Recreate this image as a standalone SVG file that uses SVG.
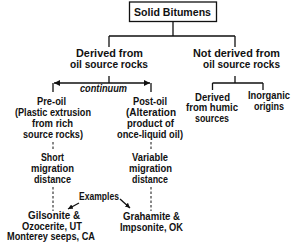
<svg xmlns="http://www.w3.org/2000/svg" width="300" height="251" viewBox="0 0 300 251">
<style>
text{font-family:"Liberation Sans",Arial,sans-serif;font-weight:bold;font-size:11px;fill:#111;text-anchor:middle}
.it{font-style:italic;font-size:10px}
.ln{stroke:#111;stroke-width:1.3;fill:none}
.dash{stroke:#111;stroke-width:1;fill:none;stroke-dasharray:2.5,2}
</style>
<defs>
<marker id="ah" viewBox="0 0 10 10" refX="10" refY="5" markerWidth="7" markerHeight="6" markerUnits="userSpaceOnUse" orient="auto-start-reverse">
<path d="M0,0 L10,5 L0,10 z" fill="#111"/>
</marker>
<marker id="ah2" viewBox="0 0 10 10" refX="10" refY="5" markerWidth="5" markerHeight="5" markerUnits="userSpaceOnUse" orient="auto">
<path d="M0,0 L10,5 L0,10 z" fill="#111"/>
</marker>
</defs>
<rect width="300" height="251" fill="#fff"/>
<g id="connectors">
<path class="ln" d="M173,22 V36 M109,36 H235 M109,36 V47 M235,36 V47"/>
<path class="ln" d="M109,76 V83 M53,83 V92 M151,83 V92"/>
<path class="ln" d="M54,83 H150" marker-start="url(#ah)" marker-end="url(#ah)"/>
<path class="ln" d="M235,76 V83 M212.5,83 H263 M212.5,83 V90 M263,83 V90"/>
<path class="dash" d="M53,142 V151 M151,142 V151"/>
<path class="dash" d="M53,187 V211 M151,187 V211"/>
<path class="ln" stroke-width="1" d="M79,203 L68,209" marker-end="url(#ah2)"/>
<path class="ln" stroke-width="1" d="M120,199 L130,208" marker-end="url(#ah2)"/>
</g>
<g id="solid-bitumens">
<rect x="129.5" y="2" width="87" height="19.5" fill="#fff" stroke="#111" stroke-width="1.3"/>
<text x="172.5" y="16" textLength="77" lengthAdjust="spacingAndGlyphs">Solid Bitumens</text>
</g>
<g id="derived">
<text x="109.5" y="57" textLength="67" lengthAdjust="spacingAndGlyphs">Derived from</text>
<text x="109" y="68" textLength="78" lengthAdjust="spacingAndGlyphs">oil source rocks</text>
</g>
<g id="not-derived">
<text x="236.5" y="57" textLength="87" lengthAdjust="spacingAndGlyphs">Not derived from</text>
<text x="241.5" y="68" textLength="77" lengthAdjust="spacingAndGlyphs">oil source rocks</text>
</g>
<g id="continuum">
<text class="it" x="103.5" y="92" textLength="47" lengthAdjust="spacingAndGlyphs">continuum</text>
</g>
<g id="pre-oil">
<text x="51.5" y="105" textLength="29" lengthAdjust="spacingAndGlyphs">Pre-oil</text>
<text x="53" y="116" textLength="76" lengthAdjust="spacingAndGlyphs">(Plastic extrusion</text>
<text x="52.5" y="127" textLength="41" lengthAdjust="spacingAndGlyphs">from rich</text>
<text x="53" y="138" textLength="60" lengthAdjust="spacingAndGlyphs">source rocks)</text>
</g>
<g id="post-oil">
<text x="150" y="105" textLength="34" lengthAdjust="spacingAndGlyphs">Post-oil</text>
<text x="151" y="116" textLength="50" lengthAdjust="spacingAndGlyphs">(Alteration</text>
<text x="150.5" y="127" textLength="47" lengthAdjust="spacingAndGlyphs">product of</text>
<text x="150" y="138" textLength="66" lengthAdjust="spacingAndGlyphs">once-liquid oil)</text>
</g>
<g id="humic">
<text x="212.5" y="100.5" textLength="35" lengthAdjust="spacingAndGlyphs">Derived</text>
<text x="212" y="111" textLength="52" lengthAdjust="spacingAndGlyphs">from humic</text>
<text x="212" y="122" textLength="34" lengthAdjust="spacingAndGlyphs">sources</text>
</g>
<g id="inorganic">
<text x="269" y="99" textLength="42" lengthAdjust="spacingAndGlyphs">Inorganic</text>
<text x="269" y="110" textLength="30" lengthAdjust="spacingAndGlyphs">origins</text>
</g>
<g id="short-migration">
<text x="52.5" y="160.5" textLength="23" lengthAdjust="spacingAndGlyphs">Short</text>
<text x="52.5" y="171.5" textLength="43" lengthAdjust="spacingAndGlyphs">migration</text>
<text x="52.5" y="182.5" textLength="37" lengthAdjust="spacingAndGlyphs">distance</text>
</g>
<g id="variable-migration">
<text x="150" y="160.5" textLength="36" lengthAdjust="spacingAndGlyphs">Variable</text>
<text x="150.5" y="171.5" textLength="43" lengthAdjust="spacingAndGlyphs">migration</text>
<text x="150" y="182.5" textLength="36" lengthAdjust="spacingAndGlyphs">distance</text>
</g>
<g id="examples">
<text x="99" y="200" textLength="40" lengthAdjust="spacingAndGlyphs">Examples</text>
</g>
<g id="gilsonite">
<text x="54" y="219" textLength="52" lengthAdjust="spacingAndGlyphs">Gilsonite &amp;</text>
<text x="52" y="229.5" textLength="60" lengthAdjust="spacingAndGlyphs">Ozocerite, UT</text>
<text x="51" y="240" textLength="88" lengthAdjust="spacingAndGlyphs">Monterey seeps, CA</text>
</g>
<g id="grahamite">
<text x="151.5" y="220" textLength="57" lengthAdjust="spacingAndGlyphs">Grahamite &amp;</text>
<text x="151.5" y="230.5" textLength="63" lengthAdjust="spacingAndGlyphs">Impsonite, OK</text>
</g>
</svg>
